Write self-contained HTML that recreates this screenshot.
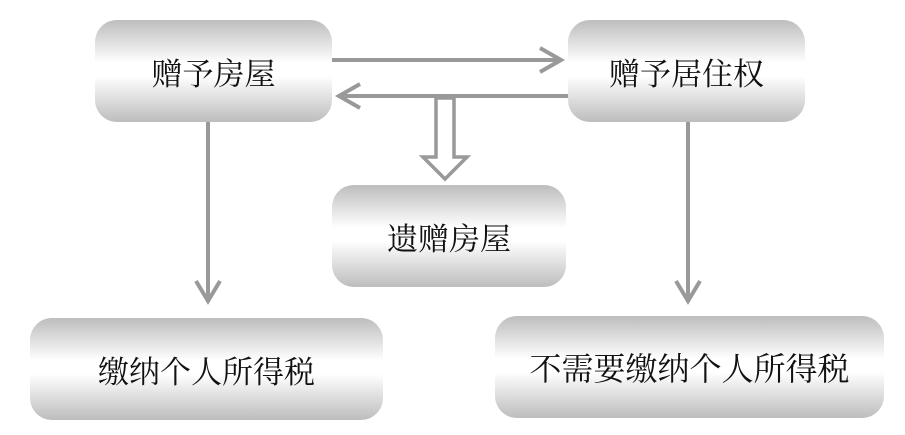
<!DOCTYPE html>
<html><head><meta charset="utf-8"><style>
body{margin:0;width:905px;height:435px;background:#fff;position:relative;overflow:hidden}
.b{position:absolute;border-radius:22px;background:linear-gradient(#bdbdbd 0%,#fff 42%,#fff 55%,#bdbdbd 100%);display:flex;align-items:center;justify-content:center;font-family:"Liberation Serif","Noto Serif CJK SC",serif;font-size:31px;color:#111}
</style></head><body>
<div class="b" style="left:95px;top:20px;width:237px;height:102px">赠予房屋</div>
<div class="b" style="left:568px;top:20px;width:237px;height:102px">赠予居住权</div>
<div class="b" style="left:332px;top:185px;width:234px;height:102px">遗赠房屋</div>
<div class="b" style="left:30px;top:318px;width:353px;height:102px">缴纳个人所得税</div>
<div class="b" style="left:495px;top:316px;width:389px;height:102px;font-size:32px">不需要缴纳个人所得税</div>
<svg width="905" height="435" style="position:absolute;left:0;top:0" fill="none" stroke="#999" stroke-width="4">
<line x1="332" y1="60" x2="560" y2="60"/><polyline points="540,48 561,60 540,72"/>
<line x1="568" y1="96" x2="340" y2="96"/><polyline points="360,84 339,96 360,108"/>
<polygon points="436,98 454,98 454,157 467,157 445,179 423,157 436,157" stroke-width="3.5"/>
<line x1="208" y1="122" x2="208" y2="300"/><polyline points="196,281 208,301 220,281"/>
<line x1="688" y1="122" x2="688" y2="300"/><polyline points="676,281 688,301 700,281"/>
</svg>
</body></html>
